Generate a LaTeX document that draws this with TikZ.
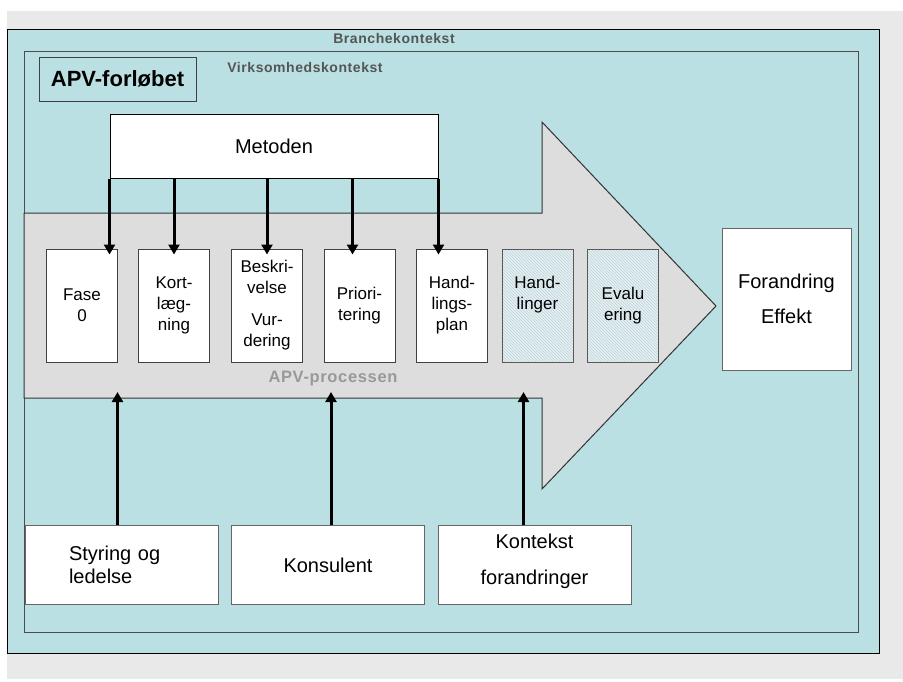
\documentclass[tikz,border=0pt]{standalone}
\usepackage{fontspec}
\setmainfont{Liberation Sans}
\newfontfamily\ctxfont[LetterSpace=4]{Liberation Sans Bold}
\usetikzlibrary{arrows.meta,patterns,positioning}
\definecolor{bggray}{HTML}{E9E9E9}
\definecolor{teal}{HTML}{BBE0E3}
\definecolor{procgray}{HTML}{DDDDDD}
\definecolor{ctxgray}{HTML}{555555}
\definecolor{hatchbg}{HTML}{E6F0F2}
\definecolor{hatchln}{HTML}{BCD5DC}
\begin{document}
\begin{tikzpicture}[x=1pt,y=-1pt,line width=1pt]
    \tikzset{phase/.style={rectangle, draw=black!75, fill=white, minimum width=71pt, minimum height=113pt, inner sep=0pt, align=center, font=\fontsize{17}{21}\selectfont}}
    \tikzset{later/.style={phase, draw=black!65, preaction={fill=hatchbg}, pattern=north west lines, pattern color=hatchln}}
    \tikzset{actor/.style={rectangle, draw=black!60, fill=white, minimum width=193pt, minimum height=79pt, inner sep=0pt, font=\fontsize{20}{23}\selectfont}}
    \tikzset{ctx/.style={text=ctxgray, font=\ctxfont\fontsize{14}{16}\selectfont}}
    \tikzset{pil/.style={draw, line width=3pt, -{Triangle[width=11pt,length=10pt]}, shorten >=-6pt}}
    \useasboundingbox (0,0) rectangle (903,681);
    \fill[bggray] (7,11) rectangle (903,679);

    % kontekster
    \draw[fill=teal] (7,29) rectangle (879,653);
    \draw[fill=teal, draw=black!70] (24,51) rectangle (858,632);
    \node[ctx] (branche) at (394,38) {Branchekontekst};
    \node[ctx] (virk) at (305,67) {Virksomhedskontekst};
    \node[rectangle, draw=black!75, fill=teal, minimum width=157pt, minimum height=44pt, font=\bfseries\fontsize{22}{26}\selectfont] (apv) at (117.5,79) {APV-forløbet};

    % procespilen
    \draw[fill=procgray, draw=black!80] (24,213) -- (542,213) -- (542,122) -- (716,306) -- (542,489) -- (542,398) -- (24,398) -- cycle;
    \coordinate (procbot) at (24,398);
    \node[text=black!40, font=\ctxfont\fontsize{16.5}{18}\selectfont] (proces) at (333,379) {APV-processen};

    \node[rectangle, draw=black, fill=white, minimum width=328pt, minimum height=64pt, font=\fontsize{20}{24}\selectfont] (metoden) at (274,146) {Metoden};

    \node[phase] (fase0) at (82,305.5) {Fase\\0};
    \node[phase] (kort) at (174,305.5) {Kort-\\læg-\\ning};
    \node[phase] (beskriv) at (267,305.5) {Beskri-\\velse\\[11pt]Vur-\\dering};
    \node[phase] (prior) at (359.5,305.5) {Priori-\\tering};
    \node[phase] (handplan) at (452,305.5) {Hand-\\lings-\\plan};
    \node[later] (handl) at (537.5,305.5) {Hand-\\linger\\[5pt]\mbox{}};
    \node[later] (eval) at (623,305.5) {Evalu\\ering};

    \node[rectangle, draw=black!60, fill=white, minimum width=129pt, minimum height=142pt, align=center, font=\fontsize{20}{35}\selectfont] (effekt) at (786.5,299) {Forandring\\Effekt};

    \node[actor, align=left, inner xsep=44pt, text width=105pt] (styring) at (121.5,565) {Styring og\\ledelse};
    \node[actor] (konsulent) at (328,565) {Konsulent};
    \node[actor, align=center, font=\fontsize{20}{36}\selectfont] (kontekst) at (534.5,565) {Kontekst\\forandringer\\[-24pt]\mbox{}};

    % metoden ned i faserne
    \draw[pil] (metoden.south west) -- (metoden.south west |- fase0.north);
    \draw[pil] (metoden.south -| kort.north) -- (kort.north);
    \draw[pil] (metoden.south -| beskriv.north) -- (beskriv.north);
    \draw[pil] ([xshift=-7pt]metoden.south -| prior.north) -- ([xshift=-7pt]prior.north);
    \draw[pil] (metoden.south east) -- (metoden.south east |- handplan.north);

    % aktorer op i processen
    \draw[pil] ([xshift=-4pt]styring.north) -- ([xshift=-4pt]styring.north |- procbot);
    \draw[pil] ([xshift=3pt]konsulent.north) -- ([xshift=3pt]konsulent.north |- procbot);
    \draw[pil] ([xshift=-11pt]kontekst.north) -- ([xshift=-11pt]kontekst.north |- procbot);
\end{tikzpicture}
\end{document}
